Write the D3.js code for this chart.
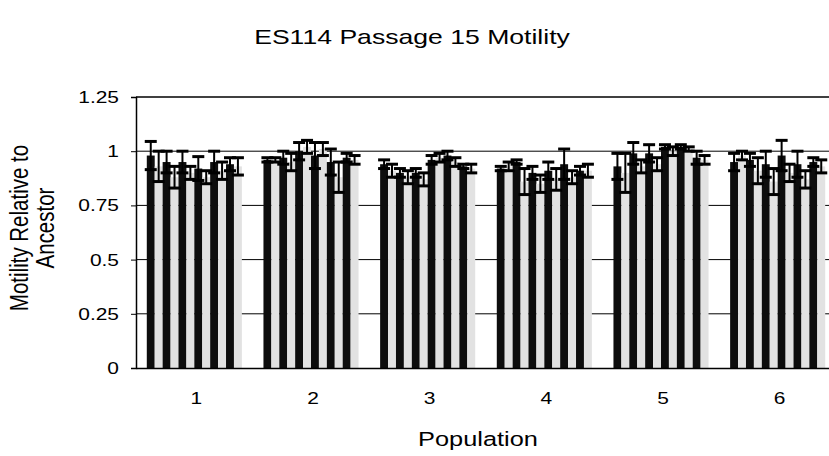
<!DOCTYPE html>
<html>
<head>
<meta charset="utf-8">
<script src="https://cdn.jsdelivr.net/npm/d3@7"></script>
<style>
  body { margin: 0; background: #fff; }
  text { font-family: "Liberation Sans", Arial, sans-serif; fill: #000; }
</style>
</head>
<body>
<div id="chart"></div>
<script>
const populations = ["1", "2", "3", "4", "5", "6"];
const seriesIds = d3.range(12);
const yTicks = [0, 0.25, 0.5, 0.75, 1, 1.25];

// mean motility per population, 12 replicate bars each
const means1 = [0.98, 0.93, 0.95, 0.88, 0.95, 0.90, 0.92, 0.88, 0.95, 0.91, 0.94, 0.93];
const means2 = [0.96, 0.96, 0.97, 0.95, 1.00, 1.02, 0.98, 1.01, 0.95, 0.88, 0.97, 0.96];
const means3 = [0.94, 0.91, 0.90, 0.88, 0.90, 0.87, 0.96, 0.97, 0.98, 0.95, 0.93, 0.92];
const means4 = [0.92, 0.93, 0.95, 0.86, 0.90, 0.85, 0.91, 0.87, 0.94, 0.88, 0.91, 0.91];
const means5 = [0.93, 0.90, 0.99, 0.93, 0.99, 0.94, 1.02, 1.00, 1.02, 1.01, 0.97, 0.96];
const means6 = [0.95, 0.98, 0.96, 0.91, 0.94, 0.86, 0.98, 0.90, 0.94, 0.87, 0.95, 0.93];

const errors1 = [0.065, 0.07, 0.05, 0.05, 0.05, 0.03, 0.055, 0.03, 0.05, 0.04, 0.03, 0.04];
const errors2 = [0.01, 0.01, 0.03, 0.04, 0.04, 0.03, 0.06, 0.03, 0.06, 0.07, 0.02, 0.02];
const errors3 = [0.02, 0.03, 0.02, 0.03, 0.02, 0.03, 0.02, 0.02, 0.02, 0.02, 0.01, 0.02];
const errors4 = [0.01, 0.02, 0.01, 0.06, 0.03, 0.04, 0.04, 0.05, 0.07, 0.03, 0.02, 0.03];
const errors5 = [0.06, 0.09, 0.05, 0.03, 0.04, 0.03, 0.01, 0.02, 0.01, 0.01, 0.03, 0.02];
const errors6 = [0.04, 0.02, 0.03, 0.06, 0.06, 0.06, 0.07, 0.04, 0.06, 0.04, 0.02, 0.03];

const allMeans = [means1, means2, means3, means4, means5, means6];
const allErrors = [errors1, errors2, errors3, errors4, errors5, errors6];

const data = [];
populations.forEach((p, i) => {
  seriesIds.forEach(s => {
    data.push({ pop: p, series: s, value: allMeans[i][s], err: allErrors[i][s] });
  });
});

const W = 829, H = 456;
const plot = { left: 136, right: 836, top: 97, bottom: 368 };
// the scanned original is stretched sideways a bit
const stretch = 1.27;

const svg = d3.select("#chart").append("svg")
  .attr("width", W)
  .attr("height", H);

const x0 = d3.scaleBand()
  .domain(populations)
  .range([plot.left, plot.right])
  .paddingInner(0.185)
  .paddingOuter(0.0925);

const x1 = d3.scaleBand()
  .domain(seriesIds)
  .range([0, x0.bandwidth()]);

const y = d3.scaleLinear()
  .domain([0, 1.25])
  .range([plot.bottom, plot.top]);

// gridlines
svg.append("g")
  .selectAll("line")
  .data(yTicks.filter(d => d > 0))
  .join("line")
  .attr("x1", plot.left)
  .attr("x2", W)
  .attr("y1", d => y(d))
  .attr("y2", d => y(d))
  .attr("stroke", "#000")
  .attr("stroke-width", d => d === 1.25 ? 1.5 : 1);

// bars
svg.append("g")
  .selectAll("rect")
  .data(data)
  .join("rect")
  .attr("x", d => x0(d.pop) + x1(d.series))
  .attr("y", d => y(d.value))
  .attr("width", x1.bandwidth())
  .attr("height", d => y(0) - y(d.value))
  .attr("fill", d => d.series % 2 === 0 ? "#0d0d0d" : "#e2e2e2");

// error bars
const cx = d => x0(d.pop) + x1(d.series) + x1.bandwidth() / 2;
const errG = svg.append("g")
  .attr("stroke", "#000")
  .attr("stroke-width", 2);

errG.selectAll(".whisker")
  .data(data)
  .join("line")
  .attr("class", "whisker")
  .attr("x1", cx)
  .attr("x2", cx)
  .attr("y1", d => y(d.value - d.err))
  .attr("y2", d => y(d.value + d.err));

errG.selectAll(".capTop")
  .data(data)
  .join("line")
  .attr("class", "capTop")
  .attr("x1", d => cx(d) - 6)
  .attr("x2", d => cx(d) + 6)
  .attr("y1", d => y(d.value + d.err))
  .attr("y2", d => y(d.value + d.err))
  .attr("stroke-width", 3);

errG.selectAll(".capBottom")
  .data(data)
  .join("line")
  .attr("class", "capBottom")
  .attr("x1", d => cx(d) - 6)
  .attr("x2", d => cx(d) + 6)
  .attr("y1", d => y(d.value - d.err))
  .attr("y2", d => y(d.value - d.err))
  .attr("stroke-width", 3);

// axes
const yAxis = svg.append("g")
  .attr("transform", `translate(${plot.left},0)`)
  .call(d3.axisLeft(y).tickValues(yTicks).tickSize(5).tickFormat(""));
yAxis.select(".domain").attr("stroke", "#000").attr("stroke-width", 1.5);

svg.append("g")
  .selectAll("text")
  .data(yTicks)
  .join("text")
  .attr("transform", d => `translate(119,${y(d)}) scale(${stretch},1)`)
  .attr("dy", "0.36em")
  .attr("text-anchor", "end")
  .style("font-size", "16.5px")
  .text(d => String(d));

const xAxis = svg.append("g")
  .attr("transform", `translate(0,${plot.bottom})`)
  .call(d3.axisBottom(x0).tickSize(0).tickFormat("").tickSizeOuter(0));
xAxis.select(".domain").attr("stroke", "#000").attr("stroke-width", 1.5);

svg.append("g")
  .selectAll("text")
  .data(populations)
  .join("text")
  .attr("transform", d => `translate(${x0(d) + x0.bandwidth() / 2 + 2},404) scale(${stretch},1)`)
  .attr("text-anchor", "middle")
  .style("font-size", "16.5px")
  .text(d => d);

// titles
svg.append("text")
  .attr("transform", `translate(412,44) scale(1.33,1)`)
  .attr("text-anchor", "middle")
  .style("font-size", "20px")
  .text("ES114 Passage 15 Motility");

svg.append("text")
  .attr("transform", `translate(478,446) scale(1.3,1)`)
  .attr("text-anchor", "middle")
  .style("font-size", "19.5px")
  .text("Population");

const yTitle = svg.append("text")
  .attr("transform", `translate(28,228) scale(${stretch},1) rotate(-90)`)
  .attr("text-anchor", "middle")
  .style("font-size", "20.5px");
yTitle.append("tspan").attr("x", 0).attr("dy", 0).text("Motility Relative to");
yTitle.append("tspan").attr("x", 0).attr("dy", 20.5).text("Ancestor");
</script>
</body>
</html>
